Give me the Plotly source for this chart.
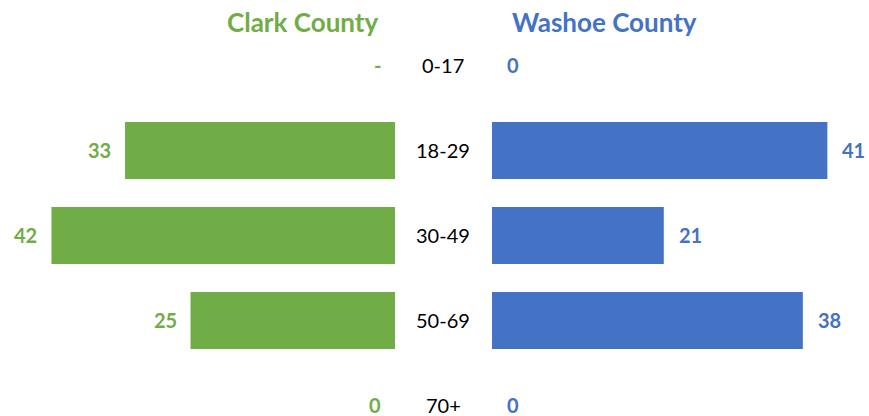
import plotly.graph_objects as go

age_groups = ["0-17", "18-29", "30-49", "50-69", "70+"]
clark_values = [0, 33, 42, 25, 0]
washoe_values = [0, 41, 21, 38, 0]
clark_labels = ["-", "33", "42", "25", "0"]
washoe_labels = ["0", "41", "21", "38", "0"]

GREEN = "#70AD47"
BLUE = "#4472C4"
FONT = "Lato"

W, H = 869, 416
px_per_unit = 8.18
left_end = 395
right_start = 492

fig = go.Figure()
fig.add_trace(go.Bar(
    y=age_groups, x=clark_values, orientation="h",
    marker=dict(color=GREEN, line=dict(width=0)), width=0.67,
    xaxis="x", yaxis="y", showlegend=False, hoverinfo="skip",
))
fig.add_trace(go.Bar(
    y=age_groups, x=washoe_values, orientation="h",
    marker=dict(color=BLUE, line=dict(width=0)), width=0.67,
    xaxis="x2", yaxis="y2", showlegend=False, hoverinfo="skip",
))

for g, v, t in zip(age_groups, clark_values, clark_labels):
    fig.add_annotation(x=v, y=g, xref="x", yref="y", text=f"<b>{t}</b>",
                       showarrow=False, xanchor="right", xshift=-12, yshift=1,
                       font=dict(family=FONT, size=20, color=GREEN))
for g, v, t in zip(age_groups, washoe_values, washoe_labels):
    fig.add_annotation(x=v, y=g, xref="x2", yref="y2", text=f"<b>{t}</b>",
                       showarrow=False, xanchor="left", xshift=13, yshift=1,
                       font=dict(family=FONT, size=20, color=BLUE))

row = 85.0
top_center = 65.5
y_top = -top_center / row
y_bot = (H - top_center) / row
yr = [y_bot, y_top]

for g in age_groups:
    fig.add_annotation(x=443 / W, y=g, xref="paper", yref="y", text=g,
                       showarrow=False, xanchor="center", yshift=1,
                       font=dict(family=FONT, size=20, color="#000000"))

fig.add_annotation(x=302 / W, y=1 - 22 / H, xref="paper", yref="paper",
                   text="<b>Clark County</b>", showarrow=False,
                   xanchor="center", yanchor="middle",
                   font=dict(family=FONT, size=26, color=GREEN))
fig.add_annotation(x=604 / W, y=1 - 22 / H, xref="paper", yref="paper",
                   text="<b>Washoe County</b>", showarrow=False,
                   xanchor="center", yanchor="middle",
                   font=dict(family=FONT, size=26, color=BLUE))

fig.update_layout(
    width=W, height=H,
    margin=dict(l=0, r=0, t=0, b=0),
    plot_bgcolor="white", paper_bgcolor="white",
    xaxis=dict(domain=[0, left_end / W], range=[left_end / px_per_unit, 0],
               visible=False, fixedrange=True),
    xaxis2=dict(domain=[right_start / W, 1], range=[0, (W - right_start) / px_per_unit],
                visible=False, fixedrange=True),
    yaxis=dict(range=yr, visible=False, type="category", categoryorder="array",
               categoryarray=age_groups, fixedrange=True),
    yaxis2=dict(range=yr, visible=False, type="category", categoryorder="array",
                categoryarray=age_groups, anchor="x2", matches="y", fixedrange=True),
)

fig.write_html("out.html", config={"displayModeBar": False},
               post_script="document.body.style.margin='0px';document.body.style.overflow='hidden';")
